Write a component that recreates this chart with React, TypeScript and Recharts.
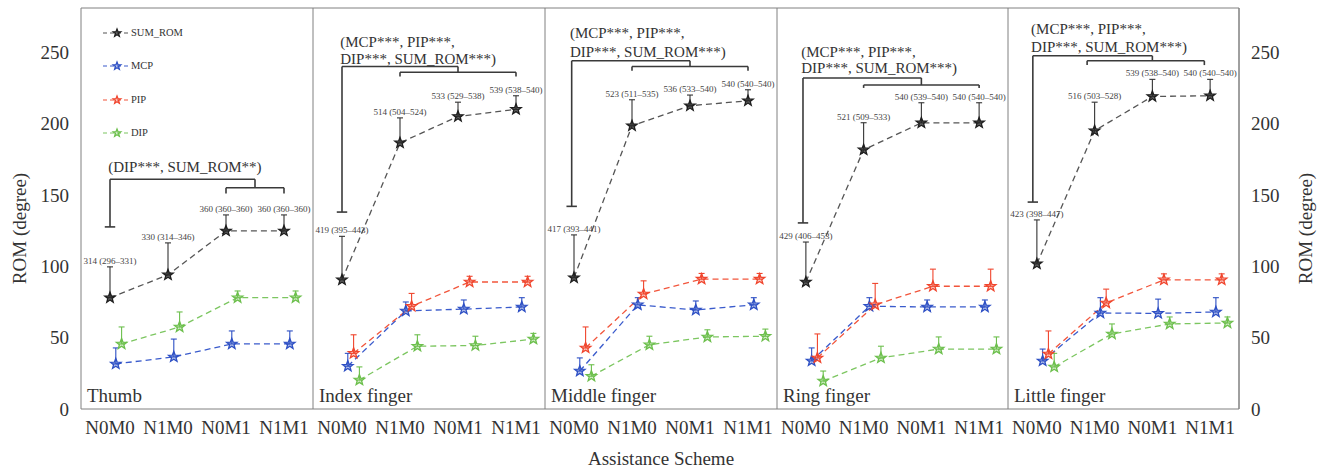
import React from "react";
import {
  LineChart,
  Line,
  XAxis,
  YAxis,
  ErrorBar,
  ReferenceLine,
  ReferenceDot,
  Legend,
} from "recharts";

const schemes = ["N0M0", "N1M0", "N0M1", "N1M1"];
const fingers = ["Thumb", "Index finger", "Middle finger", "Ring finger", "Little finger"];
const romTicks = [0, 50, 100, 150, 200, 250];

// one row per finger, one column per scheme (degrees); upper = top of whisker
const sumRom = [
  [78, 94, 124.8, 124.8],
  [90.5, 186.5, 205, 210],
  [92, 198.5, 212.5, 216],
  [89, 181.6, 200.5, 200.5],
  [101.7, 195, 219, 219.5],
];
const sumRomUpper = [
  [99.6, 116.4, 136, 136],
  [121, 204, 215, 219.5],
  [122, 216.7, 220, 223.7],
  [117, 200.6, 214.6, 214.6],
  [132.5, 215, 231, 231],
];
const mcp = [
  [31.6, 36.5, 45.6, 45.6],
  [30, 68.7, 70, 71.5],
  [26.6, 73, 69.4, 73],
  [33.7, 72, 71.5, 71.5],
  [33.7, 67.3, 67, 68],
];
const mcpUpper = [
  [42.8, 49, 54.7, 54.7],
  [39, 75, 76.4, 78],
  [35.8, 78, 75.7, 78],
  [42.8, 78, 76.4, 76.4],
  [42, 78, 77, 78],
];
const pip = [
  null,
  [39, 72, 89, 89],
  [42.8, 80.6, 91, 91],
  [35.8, 73, 86, 86],
  [38.6, 74.3, 90.5, 90.5],
];
const pipUpper = [
  null,
  [52, 81, 93, 93],
  [57.5, 89.8, 95, 95],
  [52.6, 88, 98, 98],
  [54.7, 84, 94.7, 94.7],
];
const dip = [
  [45.6, 57.5, 78, 78],
  [20.3, 44, 44.5, 49],
  [23, 45, 50.5, 51],
  [19.6, 35.8, 42, 42],
  [29.5, 52.6, 59.6, 60.3],
];
const dipUpper = [
  [57.5, 68, 82.7, 82.7],
  [29.5, 52, 51, 53],
  [31, 51, 55.5, 56],
  [26.6, 44, 50.5, 50.5],
  [39, 59.6, 64.5, 64.5],
];

// SUM_ROM median (IQR) printed above each whisker
const sumRomText = [
  ["314 (296–331)", "330 (314–346)", "360 (360–360)", "360 (360–360)"],
  ["419 (395–443)", "514 (504–524)", "533 (529–538)", "539 (538–540)"],
  ["417 (393–441)", "523 (511–535)", "536 (533–540)", "540 (540–540)"],
  ["429 (406–453)", "521 (509–533)", "540 (539–540)", "540 (540–540)"],
  ["423 (398–447)", "516 (503–528)", "539 (538–540)", "540 (540–540)"],
];

// significance brackets (scheme index on x, degrees on y)
const sigText = [
  ["(DIP***, SUM_ROM**)"],
  ["(MCP***, PIP***,", "DIP***, SUM_ROM***)"],
  ["(MCP***, PIP***,", "DIP***, SUM_ROM***)"],
  ["(MCP***, PIP***,", "DIP***, SUM_ROM***)"],
  ["(MCP***, PIP***,", "DIP***, SUM_ROM***)"],
];
const sigTextY = [[169.6], [257.4, 245.3], [263.5, 250.5], [250.5, 239], [266.8, 254]];
const bracketLeft = [0, 0, -0.04, -0.05, -0.07];
const bracketCap = [127.6, 138, 142, 130.4, 145];
const bracketTop = [161, 240, 244, 232, 247.5];
const bracketJoin = [2.5, 2, 2, 2, 2];
const innerLevel = [155, 236, 240, 227, 244];
const innerEnd = [151, 233, 237, 225, 241];
const innerFrom = [2, 1, 1, 1, 0.87];
const innerTo = [3, 3, 3, 3, 2.9];

const FONT = '"Liberation Serif", "Times New Roman", serif';
const AXIS = "#808080";
const INK = "#333333";
const Y_MAX = 281;
const PLOT_LEFT = [81, 313, 545, 777, 1008];
const PLOT_RIGHT = [313, 545, 777, 1008, 1239];

const joints = [
  { name: "SUM_ROM", mean: sumRom, upper: sumRomUpper, mark: "#1e1e1e", line: "#555555", bar: "#333333", fill: 0.7 },
  { name: "MCP", mean: mcp, upper: mcpUpper, mark: "#2d4fc4", line: "#3a5bcc", bar: "#2d4fc4", fill: 0.35 },
  { name: "PIP", mean: pip, upper: pipUpper, mark: "#f0452d", line: "#f2553b", bar: "#f0452d", fill: 0.3 },
  { name: "DIP", mean: dip, upper: dipUpper, mark: "#6cbf4c", line: "#7cc660", bar: "#6cbf4c", fill: 0.3 },
];

function starPoints(cx: number, cy: number, R: number) {
  const pts: string[] = [];
  for (let k = 0; k < 10; k++) {
    const r = k % 2 === 0 ? R : R * 0.42;
    const a = -Math.PI / 2 + (k * Math.PI) / 5;
    pts.push(`${(cx + r * Math.cos(a)).toFixed(2)},${(cy + r * Math.sin(a)).toFixed(2)}`);
  }
  return pts.join(" ");
}

function Star({ cx, cy, color, fill, r = 5.5 }: any) {
  if (cx == null || cy == null) return null;
  return (
    <polygon
      points={starPoints(cx, cy, r)}
      stroke={color}
      strokeWidth={1.3}
      fill={color}
      fillOpacity={fill}
      strokeLinejoin="miter"
    />
  );
}

function LegendBox() {
  return (
    <div style={{ position: "relative", width: 110, height: 115, fontFamily: FONT }}>
      {joints.map((s, i) => (
        <div
          key={s.name}
          style={{ position: "absolute", left: 0, top: i * 33.3, height: 14, display: "flex", alignItems: "center" }}
        >
          <svg width={29} height={14}>
            <line x1={1} x2={27} y1={7} y2={7} stroke={s.line} strokeWidth={1.1} strokeDasharray="4 3" />
            <Star cx={15} cy={7} r={4} color={s.mark} fill={s.fill} />
          </svg>
          <span style={{ fontSize: 10.5, color: INK, whiteSpace: "nowrap", lineHeight: "14px" }}>{s.name}</span>
        </div>
      ))}
    </div>
  );
}

function Panel({ f }: { f: number }) {
  const first = f === 0;
  const last = f === fingers.length - 1;
  const left = first ? 0 : PLOT_LEFT[f];
  const width = (last ? 1328 : PLOT_RIGHT[f]) - left;
  const present = joints.filter((j) => j.mean[f]);

  const bl = bracketLeft[f];
  const segs: [number, number][][] = [
    [[bl - 0.09, bracketCap[f]], [bl + 0.09, bracketCap[f]]],
    [[bl, bracketCap[f]], [bl, bracketTop[f]]],
    [[bl, bracketTop[f]], [bracketJoin[f], bracketTop[f]]],
    [[bracketJoin[f], bracketTop[f]], [bracketJoin[f], innerLevel[f]]],
    [[innerFrom[f], innerLevel[f]], [innerTo[f], innerLevel[f]]],
    [[innerFrom[f], innerLevel[f]], [innerFrom[f], innerEnd[f]]],
    [[innerTo[f], innerLevel[f]], [innerTo[f], innerEnd[f]]],
  ];

  const xCommon = {
    type: "number" as const,
    dataKey: "x",
    domain: [-0.5, 3.5],
    ticks: [0, 1, 2, 3],
    interval: 0,
    allowDataOverflow: true,
  };
  const yCommon = {
    type: "number" as const,
    domain: [0, Y_MAX],
    ticks: romTicks,
    interval: 0,
    allowDataOverflow: true,
  };

  return (
    <div style={{ position: "absolute", left, top: 0 }}>
      <LineChart width={width} height={470} margin={{ top: 8, right: 0, bottom: 0, left: 0 }}>
        <XAxis
          {...xCommon}
          xAxisId={0}
          height={61}
          tickFormatter={(v: number) => schemes[v]}
          axisLine={{ stroke: AXIS }}
          tickLine={false}
          tickSize={6}
          tickMargin={6}
          tick={{ fontSize: 19, fill: INK }}
          label={
            f === 2
              ? (p: any) => (
                  <text
                    x={p.viewBox.x + p.viewBox.width / 2}
                    y={p.viewBox.y + 56}
                    textAnchor="middle"
                    fontSize={19}
                    fill={INK}
                  >
                    Assistance Scheme
                  </text>
                )
              : undefined
          }
        />
        <XAxis {...xCommon} xAxisId="bi" mirror tick={false} tickSize={5} tickLine={{ stroke: AXIS }} axisLine={false} />
        <XAxis
          {...xCommon}
          xAxisId="top"
          orientation="top"
          mirror
          tick={false}
          tickSize={5}
          tickLine={{ stroke: AXIS }}
          axisLine={{ stroke: AXIS }}
        />
        {first ? (
          <YAxis
            {...yCommon}
            yAxisId={0}
            width={81}
            axisLine={{ stroke: AXIS }}
            tickLine={false}
            tickSize={6}
            tickMargin={6}
            tick={{ fontSize: 19, fill: INK }}
            label={(p: any) => {
              const x = p.viewBox.x + 19;
              const y = p.viewBox.y + p.viewBox.height / 2 + 20;
              return (
                <text x={x} y={y} transform={`rotate(-90 ${x} ${y})`} textAnchor="middle" dominantBaseline="central" fontSize={19} fill={INK}>
                  ROM (degree)
                </text>
              );
            }}
          />
        ) : (
          <YAxis
            {...yCommon}
            yAxisId={0}
            mirror
            tick={false}
            tickSize={5}
            tickLine={{ stroke: AXIS }}
            axisLine={{ stroke: AXIS }}
          />
        )}
        {first && (
          <YAxis {...yCommon} yAxisId="li" mirror tick={false} tickSize={5} tickLine={{ stroke: AXIS }} axisLine={false} />
        )}
        {last && (
          <YAxis
            {...yCommon}
            yAxisId="rl"
            orientation="right"
            width={89}
            axisLine={{ stroke: AXIS }}
            tickLine={false}
            tickSize={6}
            tickMargin={6}
            tick={{ fontSize: 19, fill: INK }}
            label={(p: any) => {
              const x = p.viewBox.x + 66;
              const y = p.viewBox.y + p.viewBox.height / 2 + 20;
              return (
                <text x={x} y={y} transform={`rotate(-90 ${x} ${y})`} textAnchor="middle" dominantBaseline="central" fontSize={19} fill={INK}>
                  ROM (degree)
                </text>
              );
            }}
          />
        )}
        <YAxis
          {...yCommon}
          yAxisId="ri"
          orientation="right"
          mirror
          tick={false}
          tickSize={5}
          tickLine={{ stroke: AXIS }}
          axisLine={{ stroke: AXIS }}
        />

        {segs.map((s, i) => (
          <ReferenceLine
            key={`b${i}`}
            segment={[
              { x: s[0][0], y: s[0][1] },
              { x: s[1][0], y: s[1][1] },
            ]}
            stroke="#3a3a3a"
            strokeWidth={1.6}
            ifOverflow="visible"
          />
        ))}
        {sigText[f].map((t, k) => (
          <ReferenceDot
            key={`t${k}`}
            x={bl - 0.03}
            y={sigTextY[f][k]}
            r={0}
            fill="none"
            stroke="none"
            ifOverflow="visible"
            label={{ value: t, position: "right", offset: 0, fontSize: 15, fill: INK }}
          />
        ))}
        {schemes.map((s, j) => (
          <ReferenceDot
            key={`v${j}`}
            x={j}
            y={sumRomUpper[f][j]}
            r={0}
            fill="none"
            stroke="none"
            ifOverflow="visible"
            label={{ value: sumRomText[f][j], position: "top", offset: 3, fontSize: 9, fill: "#444" }}
          />
        ))}
        <ReferenceDot
          x={-0.5}
          y={0}
          r={0}
          fill="none"
          stroke="none"
          ifOverflow="visible"
          label={(p: any) => (
            <text x={p.viewBox.x + 6} y={p.viewBox.y - 7} fontSize={19} fill={INK}>
              {fingers[f]}
            </text>
          )}
        />

        {present.map((s, k) => {
          const mean = s.mean[f] as number[];
          const upper = s.upper[f] as number[];
          const rows = schemes.map((_, j) => ({
            x: j + k * 0.1,
            y: mean[j],
            err: [0, upper[j] - mean[j]],
          }));
          return (
            <Line
              key={s.name}
              name={s.name}
              data={rows}
              dataKey="y"
              xAxisId={0}
              yAxisId={0}
              type="linear"
              stroke={s.line}
              strokeWidth={1.3}
              strokeDasharray="6 4"
              isAnimationActive={false}
              activeDot={false}
              dot={(p: any) => <Star key={`${s.name}${p.index}`} cx={p.cx} cy={p.cy} color={s.mark} fill={s.fill} />}
            >
              <ErrorBar dataKey="err" direction="y" width={3} stroke={s.bar} strokeWidth={1.1} isAnimationActive={false} />
            </Line>
          );
        })}

        {first && (
          <Legend
            layout="vertical"
            align="center"
            verticalAlign="middle"
            wrapperStyle={{ left: 102, top: 26, width: 110 }}
            content={() => <LegendBox />}
          />
        )}
      </LineChart>
    </div>
  );
}

export default function App() {
  return (
    <div
      style={{
        position: "absolute",
        left: 0,
        top: 0,
        width: 1328,
        height: 470,
        background: "#fff",
        fontFamily: FONT,
      }}
    >
      {fingers.map((_, f) => (
        <Panel key={f} f={f} />
      ))}
    </div>
  );
}
